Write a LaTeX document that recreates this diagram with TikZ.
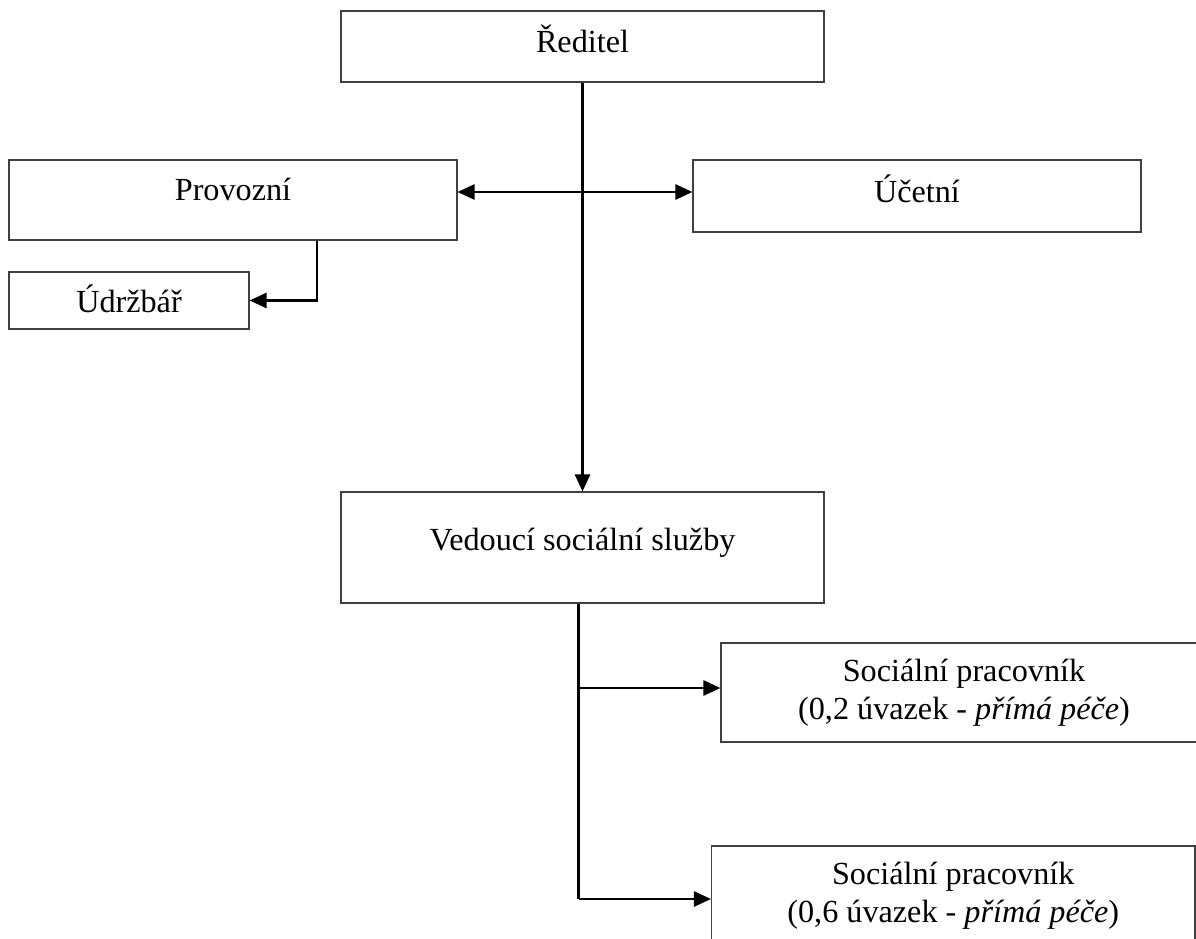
\documentclass[tikz,border=0pt]{standalone}
\usepackage{fontspec}
\setmainfont{Liberation Serif}
\usetikzlibrary{arrows.meta}

\begin{document}
\begin{tikzpicture}[
		x = 1pt, y = -1pt,
		every node/.style = {draw = black!75, line width = 1.1pt, rectangle, inner sep = 0pt,
			font = \fontsize{32.2}{38}\selectfont},
		single/.style = {text height = 22pt, text depth = 9pt},
		double/.style = {align = center},
		conn/.style = {line width = 2.6pt, black},
		arr/.style = {conn, -{Triangle[length = 17pt, width = 15pt]}}
		]
		\useasboundingbox (0,0) rectangle (1196,939);
		\clip (0,0) rectangle (1196,939);
		% Boxes
		\node[single, minimum width = 483pt, minimum height = 71pt] (reditel) at (582.5,46.5) {Ředitel};
		\node[single, text depth = 21pt, minimum width = 448pt, minimum height = 80pt] (provozni) at (233,200) {Provozní};
		\node[single, minimum width = 448pt, minimum height = 72pt] (ucetni) at (917,196) {Účetní};
		\node[single, text height = 30pt, text depth = 6pt, minimum width = 240pt, minimum height = 57pt] (udrzbar) at (129,300.5) {Údržbář};
		\node[single, text depth = 16pt, minimum width = 483pt, minimum height = 111pt] (vedouci) at (582.5,547.5) {Vedoucí sociální služby};
		\node[double, minimum width = 486pt, minimum height = 99pt] (soc1) at (964,692.5) {Sociální pracovník\\(0,2 úvazek - \textit{přímá péče})};
		\node[double, minimum width = 483.5pt, minimum height = 99pt] (soc2) at (953.25,895.5) {Sociální pracovník\\(0,6 úvazek - \textit{přímá péče})};
		% Connectors
		\coordinate (hub) at (reditel.south |- 0,192);
		\draw[arr] (reditel) -- (vedouci);
		\draw[arr] (hub) -- (hub -| provozni.east);
		\draw[arr] (hub) -- (hub -| ucetni.west);
		\draw[arr] ([xshift = 84pt]provozni.south) |- (udrzbar.east);
		\coordinate (trunk) at ([xshift = -4pt]vedouci.south);
		\coordinate (fork1) at (trunk |- 0,688);
		\coordinate (fork2) at (trunk |- 0,899);
		\draw[conn] (trunk) -- (fork2);
		\draw[arr] (fork1) -- (fork1 -| soc1.west);
		\draw[arr] (fork2) -- (fork2 -| soc2.west);
	\end{tikzpicture}
\end{document}
